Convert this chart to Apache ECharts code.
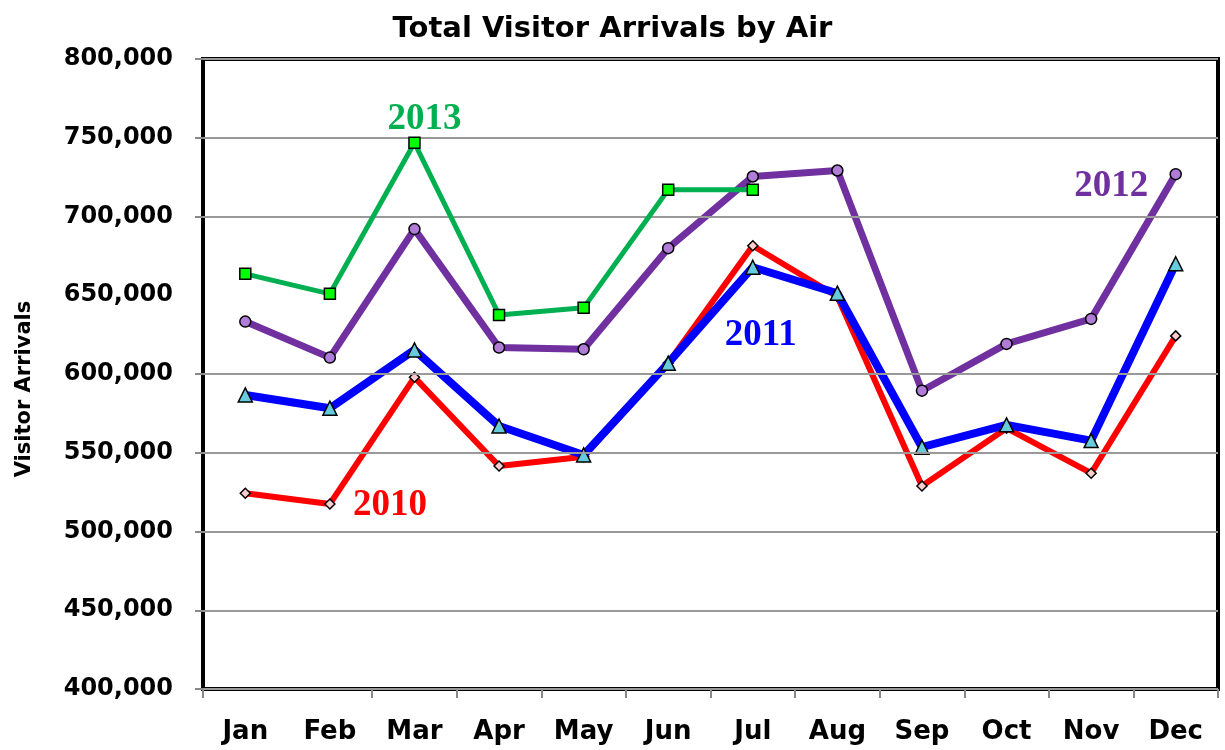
<!DOCTYPE html>
<html>
<head>
<meta charset="utf-8">
<script src="https://cdn.jsdelivr.net/npm/echarts@6/dist/echarts.min.js"></script>
<style>
html,body{margin:0;padding:0;background:#fff;}
#chart{width:1225px;height:750px;}
</style>
</head>
<body>
<div id="chart"></div>
<script>
const months = ['Jan','Feb','Mar','Apr','May','Jun','Jul','Aug','Sep','Oct','Nov','Dec'];
const y2010 = [524300, 517500, 597900, 541600, 547500, 607000, 681400, 649200, 528900, 565600, 537000, 624200];
const y2011 = [586700, 578300, 615300, 567000, 548600, 606900, 667800, 651300, 553500, 567700, 557700, 670000];
const y2012 = [633300, 610400, 692000, 616800, 615700, 679900, 725400, 729200, 589400, 619100, 635000, 726900];
const y2013 = [663600, 650900, 746800, 637500, 642000, 717000, 717000];
const yTicks = [400000, 450000, 500000, 550000, 600000, 650000, 700000, 750000, 800000];
// the reference draws no grid line / tick mark at 650,000
const yTicksDrawn = [400000, 450000, 500000, 550000, 600000, 700000, 750000, 800000];

const FONT = 'DejaVu Sans';
const chart = echarts.init(document.getElementById('chart'), null, {renderer:'canvas'});

function tag(text, color, coord, offset) {
  return {
    symbol: 'circle',
    symbolSize: 2,
    silent: true,
    itemStyle: {color: 'rgba(0,0,0,0)'},
    data: [{
      coord: coord,
      label: {
        show: true, position: 'inside', formatter: text, color: color, offset: offset,
        fontFamily: 'Liberation Serif', fontWeight: 'bold', fontSize: 37
      }
    }]
  };
}

const option = {
  backgroundColor: '#fff',
  animation: false,
  title: {
    text: 'Total Visitor Arrivals by Air',
    left: 'center', top: 10,
    textStyle: {fontFamily: FONT, fontWeight: 'bold', fontSize: 29, color: '#000'}
  },
  grid: {
    left: 203, right: 7, top: 59, bottom: 61,
    outerBoundsMode: 'none', containLabel: false,
    show: true, borderColor: '#000', borderWidth: 4, backgroundColor: '#fff'
  },
  xAxis: {
    type: 'category', data: months, boundaryGap: true,
    axisLine: {show: false},
    axisTick: {show: true, length: 9, interval: (i) => i !== 1, lineStyle: {color: '#888', width: 2}},
    axisLabel: {fontFamily: FONT, fontWeight: 'bold', fontSize: 26, color: '#000', margin: 30}
  },
  yAxis: {
    type: 'value', min: yTicks[0], max: yTicks[yTicks.length-1], interval: 50000,
    name: 'Visitor Arrivals', nameLocation: 'middle', nameGap: 168, nameRotate: 90,
    nameTextStyle: {fontFamily: FONT, fontWeight: 'bold', fontSize: 21, color: '#000', padding: [0, 30, 0, 0]},
    axisLine: {show: false},
    axisTick: {show: true, length: 8, customValues: yTicksDrawn, lineStyle: {color: '#888', width: 2}},
    splitLine: {show: false},
    axisLabel: {
      fontFamily: FONT, fontWeight: 'bold', fontSize: 24, color: '#000', margin: 30,
      customValues: yTicks,
      formatter: v => v.toLocaleString('en-US')
    }
  },
  series: [
    {
      name: 'grid', type: 'line', data: [], z: 1, silent: true,
      markLine: {
        silent: true, symbol: 'none', animation: false,
        label: {show: false},
        lineStyle: {color: '#999', width: 2, type: 'solid'},
        data: yTicksDrawn.map(v => ({yAxis: v}))
      }
    },
    {
      name: '2010', type: 'line', data: y2010, z: 2,
      lineStyle: {color: '#ff0000', width: 6},
      symbol: 'diamond', symbolSize: 10,
      itemStyle: {color: '#ffcccc', borderColor: '#000', borderWidth: 1.5},
      markPoint: tag('2010', '#ff0000', ['Feb', 516800], [60, 0])
    },
    {
      name: '2011', type: 'line', data: y2011, z: 3,
      lineStyle: {color: '#0000ff', width: 8},
      symbol: 'triangle', symbolSize: 14,
      itemStyle: {color: '#66ccdd', borderColor: '#000', borderWidth: 1.5},
      markPoint: tag('2011', '#0000ff', ['Jul', 624800], [8, 0])
    },
    {
      name: '2012', type: 'line', data: y2012, z: 4,
      lineStyle: {color: '#7030a0', width: 7},
      symbol: 'circle', symbolSize: 11,
      itemStyle: {color: '#b07cd8', borderColor: '#000', borderWidth: 1.5},
      markPoint: tag('2012', '#7030a0', ['Nov', 718900], [20, 0])
    },
    {
      name: '2013', type: 'line', data: y2013, z: 5,
      lineStyle: {color: '#00b050', width: 5},
      symbol: 'rect', symbolSize: 11,
      itemStyle: {color: '#00ff00', borderColor: '#000', borderWidth: 1.5},
      markPoint: tag('2013', '#00b050', ['Mar', 746800], [10, -23])
    }
  ]
};
chart.setOption(option);
</script>
</body>
</html>
